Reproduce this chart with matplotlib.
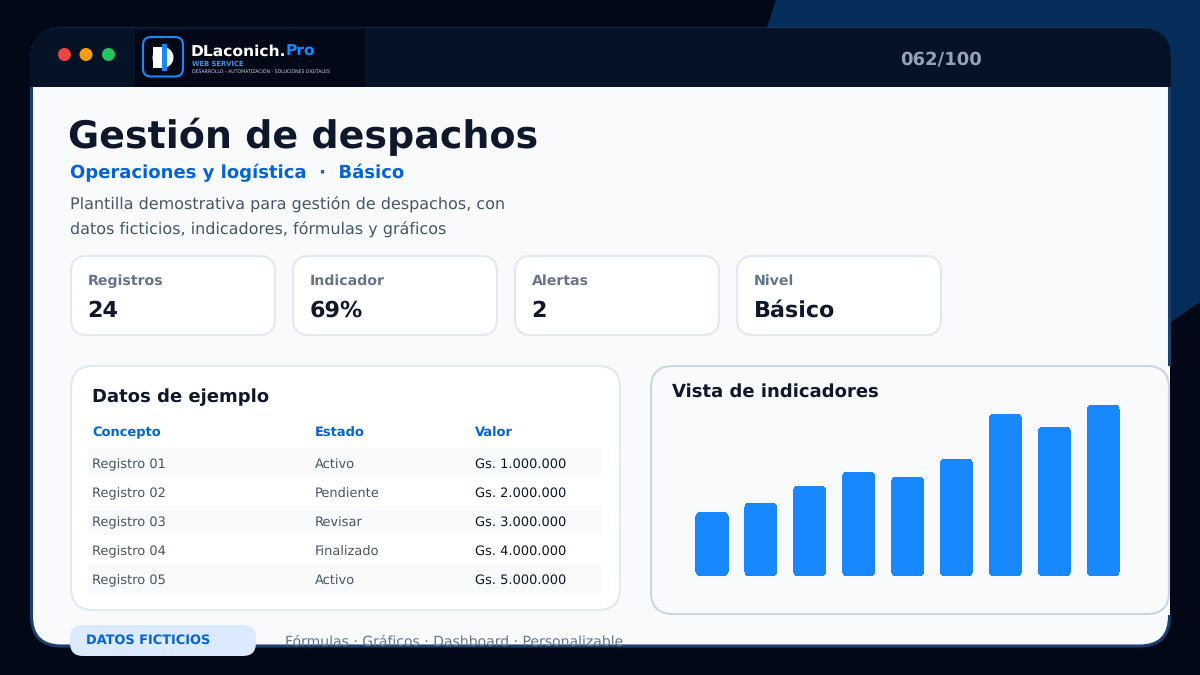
"""
Gestión de despachos: slide con tarjetas, tabla y gráfico de barras
"""
import matplotlib
matplotlib.use('Agg')
import matplotlib.pyplot as plt
from matplotlib.patches import FancyBboxPatch, Polygon, Circle, Rectangle

plt.rcParams['text.hinting'] = 'none'

# datos
kpi_labels = ["Registros", "Indicador", "Alertas", "Nivel"]
kpi_values = ["24", "69%", "2", "Básico"]
table_headers = ["Concepto", "Estado", "Valor"]
table_concepts = ["Registro 01", "Registro 02", "Registro 03", "Registro 04", "Registro 05"]
table_states = ["Activo", "Pendiente", "Revisar", "Finalizado", "Activo"]
table_values = ["Gs. 1.000.000", "Gs. 2.000.000", "Gs. 3.000.000", "Gs. 4.000.000", "Gs. 5.000.000"]
bar_values = [64, 73, 90, 104, 99, 117, 162, 149, 171]

W, H = 1200, 675
INK = '#0f172a'
BLUE = '#1888ff'
LINK = '#0563d6'
PAGE = '#f8fafc'


def round_box(ax, x0, y0, x1, y1, r, face, edge='none', lw=0, z=2):
    box = FancyBboxPatch((x0, y0), x1 - x0, y1 - y0,
                         boxstyle=f'round,pad=0,rounding_size={r}',
                         facecolor=face, edgecolor=edge, linewidth=lw, zorder=z)
    ax.add_patch(box)
    return box


fig = plt.figure(figsize=(12, 6.75), dpi=100, facecolor='#030816')
ax = fig.add_axes([0, 0, 1, 1])
ax.set_xlim(0, W)
ax.set_ylim(H, 0)
ax.axis('off')

# fondo y ventana
ax.add_patch(Polygon([(776, 0), (1200, 0), (1200, 302), (1171, 322), (1171, 60), (766, 30)],
                     closed=True, facecolor='#062c5a', edgecolor='none', zorder=1))
frame = round_box(ax, 31.5, 29, 1169.5, 646, 30, PAGE, '#1c3f6e', 2.2, z=2)
header = ax.add_patch(Rectangle((30, 28), 1141, 59, facecolor='#061226', edgecolor='none', zorder=3))
header_clip = round_box(ax, 30, 28, 1171, 300, 30, 'none', z=3)
header.set_clip_path(header_clip)

# barra superior
for cx, color in zip([64.5, 86, 108.5], ['#ef4444', '#f59e0b', '#22c55e']):
    ax.add_patch(Circle((cx, 54.5), 6.5, facecolor=color, edgecolor='none', zorder=4))
ax.add_patch(Rectangle((135, 30), 230, 57, facecolor='#030816', edgecolor='none', zorder=4))
round_box(ax, 143, 37, 183, 76.5, 8, 'none', BLUE, 1.5, z=5)
ax.add_patch(Circle((163, 57.5), 10.5, facecolor='#f3f5f4', edgecolor='none', zorder=5))
ax.add_patch(Rectangle((153, 47), 9, 21, facecolor='white', edgecolor='none', zorder=5))
ax.add_patch(Rectangle((162, 44), 5, 27, facecolor=BLUE, edgecolor='none', zorder=6))
ax.text(191, 52, "DLaconich.", color='white', fontsize=11.15, fontweight='bold', va='center', zorder=6)
ax.text(285.5, 52, "Pro", color=BLUE, fontsize=11.15, fontweight='bold', va='center', zorder=6)
ax.text(192, 63.5, "WEB SERVICE", color='#4a90e2', fontsize=4.9, fontweight='bold', va='center', zorder=6)
ax.text(192, 72, "DESARROLLO - AUTOMATIZACIÓN - SOLUCIONES DIGITALES", color='#c7d0dc',
        fontsize=3.3, va='center', zorder=6)
ax.text(941, 60, "062/100", color='#94a3b8', fontsize=13, fontweight='bold',
        ha='center', va='center', zorder=6)

# encabezado
ax.text(68, 137, "Gestión de despachos", color=INK, fontsize=27.4, fontweight='bold', va='center', zorder=5)
ax.text(70, 173, "Operaciones y logística  ·  Básico", color=LINK, fontsize=13, fontweight='bold',
        va='center', zorder=5)
ax.text(70, 205, "Plantilla demostrativa para gestión de despachos, con", color='#475569',
        fontsize=11.5, va='center', zorder=5)
ax.text(70, 230, "datos ficticios, indicadores, fórmulas y gráficos", color='#475569',
        fontsize=11.5, va='center', zorder=5)

# tarjetas
for i, (label, value) in enumerate(zip(kpi_labels, kpi_values)):
    x0 = 71 + i * 222
    round_box(ax, x0, 256, x0 + 204, 335, 16, 'white', '#e2e8f0', 1.5, z=4)
    ax.text(x0 + 17, 281, label, color='#64748b', fontsize=10.2, fontweight='bold', va='center', zorder=5)
    ax.text(x0 + 16.5, 311, value, color=INK, fontsize=16, fontweight='bold', va='center', zorder=5)

# tabla
round_box(ax, 71, 366, 620, 610, 22, 'white', '#e2e8f0', 1.5, z=4)
ax.text(92, 397, "Datos de ejemplo", color=INK, fontsize=13, fontweight='bold', va='center', zorder=5)
col_x = [92, 315, 475]
for x, head in zip(col_x, table_headers):
    ax.text(x, 433, head, color=LINK, fontsize=9.4, fontweight='bold', va='center', zorder=5)
for i, (concept, state, value) in enumerate(zip(table_concepts, table_states, table_values)):
    top = 448 + i * 29
    if i % 2 == 0:
        ax.add_patch(Rectangle((88, top), 513, 29, facecolor=PAGE, edgecolor='none', zorder=4.5))
    ax.text(col_x[0], top + 20, concept, color='#475569', fontsize=9.4, va='baseline', zorder=5)
    ax.text(col_x[1], top + 21, state, color='#475569', fontsize=9.4, va='baseline', zorder=5)
    ax.text(col_x[2], top + 20, value, color=INK, fontsize=9.4, va='baseline', zorder=5)

# panel del gráfico
ax.add_patch(Rectangle((1165, 366), 5, 249, facecolor=PAGE, edgecolor='none', zorder=3.5))
ax.add_patch(Rectangle((1170, 366), 1, 249, facecolor='#030816', edgecolor='none', zorder=3.5))
round_box(ax, 651, 366, 1169, 614, 22, PAGE, '#cbd5e1', 1.5, z=4)
ax.text(672, 392, "Vista de indicadores", color=INK, fontsize=13, fontweight='bold', va='center', zorder=5)

# pie
round_box(ax, 70, 625, 256, 656, 13, '#dbeafe', z=6)
ax.text(86, 640, "DATOS FICTICIOS", color=LINK, fontsize=9.3, fontweight='bold', va='center', zorder=7)
foot = ax.text(285, 642, "Fórmulas · Gráficos · Dashboard · Personalizable", color='#64748b',
               fontsize=10.05, va='center', zorder=5)
foot.set_clip_path(Rectangle((30, 600), 1140, 45, transform=ax.transData))

# barras, una unidad de y = un pixel
bar_left, bar_step = 687.5, 48.9
bar_ax = fig.add_axes([bar_left / W, 1 - 576 / H, 9 * bar_step / W, 176 / H])
bar_ax.patch.set_alpha(0)
bar_ax.axis('off')
bar_ax.set_zorder(3)
bar_ax.set_xlim(-0.5, 8.5)
bar_ax.set_ylim(0, 176)
positions = list(range(len(bar_values)))
bars = bar_ax.bar(positions, bar_values, width=0.66, color=BLUE)
for b in bars:
    b.set_visible(False)
    bar_ax.add_patch(FancyBboxPatch((b.get_x(), 0), b.get_width(), b.get_height(),
                                    boxstyle='round,pad=0,rounding_size=0.12', mutation_aspect=bar_step,
                                    facecolor=BLUE, edgecolor='none', antialiased=False))

fig.savefig('out.png', dpi=100, facecolor=fig.get_facecolor())
plt.close(fig)
